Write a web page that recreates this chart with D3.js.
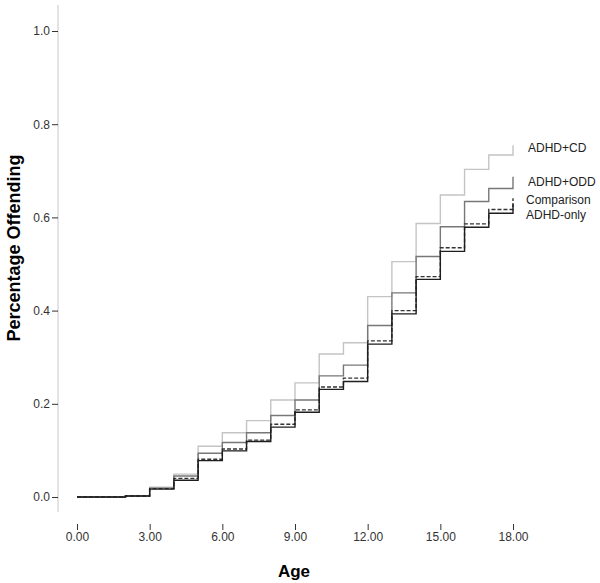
<!DOCTYPE html>
<html>
<head>
<meta charset="utf-8">
<script src="https://cdn.jsdelivr.net/npm/d3@7"></script>
<style>
  body { margin: 0; background: #fff; }
  svg { display: block; font-family: "Liberation Sans", Arial, sans-serif; }
</style>
</head>
<body>
<div id="chart"></div>
<script>
// ages where the step changes, last one is the final jump at 18
var ages = [0,1,2,3,4,5,6,7,8,9,10,11,12,13,14,15,16,17,18];

var adhdCd     = [0,0,0.002,0.021,0.049,0.109,0.138,0.164,0.208,0.245,0.307,0.331,0.430,0.505,0.587,0.648,0.703,0.734,0.755];
var adhdOdd    = [0,0,0.002,0.019,0.045,0.094,0.117,0.138,0.175,0.208,0.260,0.283,0.368,0.438,0.516,0.580,0.634,0.662,0.687];
var comparison = [0,0,0.002,0.018,0.040,0.081,0.103,0.122,0.156,0.187,0.236,0.255,0.335,0.400,0.473,0.535,0.586,0.617,0.641];
var adhdOnly   = [0,0,0.002,0.017,0.036,0.078,0.099,0.119,0.150,0.182,0.231,0.248,0.328,0.393,0.467,0.527,0.579,0.609,0.628];

var seriesNames = ["ADHD+CD", "ADHD+ODD", "Comparison", "ADHD-only"];
var xTicks = [0, 3, 6, 9, 12, 15, 18];
var yTicks = [0, 0.2, 0.4, 0.6, 0.8, 1.0];

var series = [
  { name: seriesNames[0], values: adhdCd },
  { name: seriesNames[1], values: adhdOdd },
  { name: seriesNames[2], values: comparison },
  { name: seriesNames[3], values: adhdOnly }
];

// looks per series (colour, dash, label nudge)
var look = {
  "ADHD+CD":    { color: "#c4c4c4", dash: null,  dx: 15, dy: 7 },
  "ADHD+ODD":   { color: "#777777", dash: null,  dx: 15, dy: 9 },
  "Comparison": { color: "#333333", dash: "4,2", dx: 13, dy: 6 },
  "ADHD-only":  { color: "#1e1e1e", dash: null,  dx: 13, dy: 15 }
};

var width = 600, height = 583;

var svg = d3.select("#chart").append("svg")
  .attr("width", width)
  .attr("height", height);

var x = d3.scaleLinear().domain([0, 18]).range([77, 513]);
var y = d3.scaleLinear().domain([0, 1]).range([497, 31]);

// y axis line (light gray, runs past the ticks)
svg.append("line")
  .attr("x1", 58).attr("x2", 58)
  .attr("y1", 5).attr("y2", 512)
  .attr("stroke", "#c8c8c8")
  .attr("stroke-width", 1);

var yAxis = svg.append("g")
  .attr("transform", "translate(58,0)")
  .call(d3.axisLeft(y).tickValues(yTicks).tickFormat(d3.format(".1f")).tickSize(6).tickPadding(2));
yAxis.select(".domain").remove();
yAxis.selectAll(".tick line").attr("stroke", "#333");
yAxis.selectAll(".tick text")
  .attr("fill", "#333")
  .style("font-size", "12px")
  .style("font-family", "Liberation Sans, Arial, sans-serif");

var xAxis = svg.append("g")
  .attr("transform", "translate(0,524)")
  .call(d3.axisBottom(x).tickValues(xTicks).tickFormat(d3.format(".2f")).tickSize(6).tickPadding(2));
xAxis.select(".domain").remove();
xAxis.selectAll(".tick line").attr("stroke", "#333");
xAxis.selectAll(".tick text")
  .attr("fill", "#333")
  .style("font-size", "12px")
  .style("font-family", "Liberation Sans, Arial, sans-serif");

// axis titles
svg.append("text")
  .attr("x", 294).attr("y", 577)
  .attr("text-anchor", "middle")
  .style("font-size", "17px")
  .style("font-weight", "bold")
  .text("Age");

svg.append("text")
  .attr("transform", "translate(20,248) rotate(-90)")
  .attr("text-anchor", "middle")
  .style("font-size", "18px")
  .style("font-weight", "bold")
  .text("Percentage Offending");

var line = d3.line()
  .x(function(d, i) { return x(ages[i]); })
  .y(function(d) { return y(d); })
  .curve(d3.curveStepAfter);

svg.selectAll("path.series")
  .data(series)
  .enter()
  .append("path")
  .attr("class", "series")
  .attr("fill", "none")
  .attr("stroke", function(d) { return look[d.name].color; })
  .attr("stroke-width", 1.4)
  .attr("stroke-dasharray", function(d) { return look[d.name].dash; })
  .attr("d", function(d) { return line(d.values); });

svg.selectAll("text.label")
  .data(series)
  .enter()
  .append("text")
  .attr("class", "label")
  .attr("x", function(d) { return x(18) + look[d.name].dx; })
  .attr("y", function(d) { return y(d.values[d.values.length - 1]) + look[d.name].dy; })
  .style("font-size", "12px")
  .attr("fill", "#222")
  .text(function(d) { return d.name; });
</script>
</body>
</html>
